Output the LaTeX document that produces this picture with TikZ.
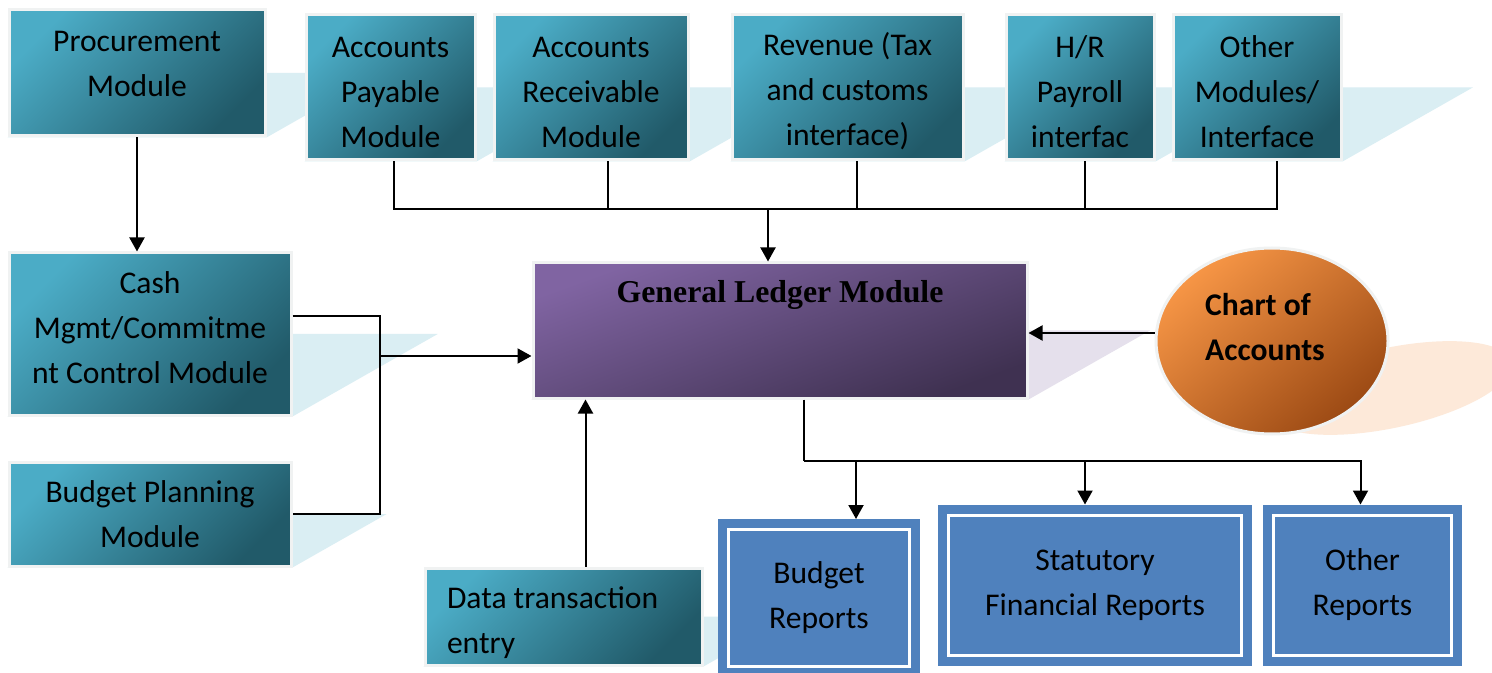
\documentclass[tikz,border=0pt]{standalone}
\usepackage{fontspec}
\setmainfont{Carlito}
\newfontfamily\glserif{Liberation Serif}
\usepackage{tikz}
\usetikzlibrary{arrows.meta, calc, shapes.geometric, backgrounds}

\definecolor{tealhi}{HTML}{4BACC6}
\definecolor{tealdk}{HTML}{215A69}
\definecolor{tealsh}{HTML}{DAEEF3}
\definecolor{purphi}{HTML}{8064A2}
\definecolor{purpdk}{HTML}{3F3151}
\definecolor{purpsh}{HTML}{E5E0EC}
\definecolor{orghi}{HTML}{F79646}
\definecolor{orgdk}{HTML}{9C4A14}
\definecolor{orgsh}{HTML}{FDE9D9}
\definecolor{repblue}{HTML}{4F81BD}
\definecolor{rimgray}{HTML}{F0F2F2}

\newcommand{\boxfont}{\fontsize{15.8}{22.5}\selectfont}
\newcommand{\txtup}[1]{\rule[-#1]{0pt}{0pt}}
\newcommand{\txtdown}[1]{\rule{0pt}{#1}}

\tikzset{
  modbox/.style={rectangle, draw=rimgray, line width=1.5pt, top color=tealhi,
    bottom color=tealdk, shading angle=45, align=center, font=\boxfont, inner sep=2pt},
  glbox/.style={rectangle, draw=rimgray, line width=1.5pt, top color=purphi,
    bottom color=purpdk, shading angle=20},
  coabox/.style={ellipse, draw=rimgray, line width=1.5pt, top color=orghi,
    bottom color=orgdk, shading angle=40},
  repbox/.style={rectangle, fill=repblue, draw=repblue, double=white,
    double distance=1.5pt, line width=4.5pt, outer sep=5.25pt, align=center,
    font=\boxfont, inner sep=2pt}
}

\newcommand{\dropshade}[2]{%
  \fill[#2] let \p1=(#1.north), \p2=(#1.south), \n1={0.88*(\y1-\y2)} in
    ([xshift=\n1]#1.west) -- ([xshift=\n1]#1.east) -- (#1.south east) -- (#1.south west) -- cycle;}

\begin{document}
\begin{tikzpicture}[x=0.5pt, y=-0.5pt, line width=1pt, >={Triangle[length=7pt,width=7.5pt]}]
\useasboundingbox (0,0) rectangle (1492,673);

% modules
\node[modbox, minimum width=128pt, minimum height=63pt] (proc) at (137,73) {Procurement\\Module\txtup{9pt}};
\node[modbox, minimum width=84.5pt, minimum height=72.5pt] (ap) at (390.5,87.5) {\txtdown{15pt}Accounts\\Payable\\Module};
\node[modbox, minimum width=97pt, minimum height=72.5pt] (ar) at (591,87.5) {\txtdown{15pt}Accounts\\Receivable\\Module};
\node[modbox, minimum width=115.5pt, minimum height=72.5pt] (rev) at (847.5,87.5) {\txtdown{15pt}Revenue (Tax\\and customs\\interface)};
\node[modbox, minimum width=74pt, minimum height=72.5pt] (hr) at (1080,87.5) {\txtdown{15pt}H/R\\Payroll\\interfac};
\node[modbox, minimum width=84pt, minimum height=72.5pt] (oth) at (1257,87.5) {\txtdown{15pt}Other\\Modules/\\Interface};
\node[modbox, minimum width=141pt, minimum height=81pt] (cash) at (150,334) {Cash\\Mgmt/Commitme\\nt Control Module\txtup{6pt}};
\node[modbox, minimum width=141pt, minimum height=52pt] (plan) at (150,514) {Budget Planning\\Module};
\node[modbox, minimum width=138.5pt, minimum height=48.5pt, text width=116.5pt, inner xsep=11pt,
  align=flush left] (data) at (563.5,616.5) {\txtdown{17.5pt}Data transaction\\entry};

\node[glbox, minimum width=247pt, minimum height=67.5pt,
  label={[font=\glserif\bfseries\fontsize{15.9}{19}\selectfont, anchor=north, inner sep=0pt, yshift=-9pt]north:General Ledger Module}] (gl) at (780,330.5) {};
\node[coabox, minimum width=116pt, minimum height=93pt,
  label={[font=\boxfont\bfseries, align=left, xshift=-3.5pt, yshift=7pt]center:Chart of\\Accounts}] (coa) at (1272,341) {};

% reports
\node[repbox, minimum width=90.5pt, minimum height=68.5pt] (bud) at (819,598) {Budget\\Reports};
\node[repbox, minimum width=146.5pt, minimum height=70pt] (stat) at (1095,585) {Statutory\\Financial Reports};
\node[repbox, minimum width=89pt, minimum height=70pt] (othr) at (1362.5,585) {Other\\Reports};

% connectors
\draw[->] (proc.south) -- (proc.south |- cash.north);

\coordinate (tsplit) at (768,209);
\foreach \m/\dx in {ap/1.75pt, ar/8.5pt, rev/4.75pt, hr/2.5pt, oth/10pt}
  \draw ([xshift=\dx]\m.south) |- (tsplit);
\draw[->] (tsplit) -- (tsplit |- gl.north);

\coordinate (ljoin) at (380,356);
\draw ([yshift=9pt]cash.east) -| (ljoin) |- (plan.east);
\draw[->] (ljoin) -- (ljoin -| gl.west);

\draw[->] ([xshift=11pt]data.north) -- ([xshift=11pt]data.north |- gl.south);
\draw[->] ([yshift=4pt]coa.west) -- ([yshift=4pt]coa.west -| gl.east);

\coordinate (rsplit) at (804,461);
\draw ([xshift=12pt]gl.south) -- (rsplit);
\foreach \r/\dx in {bud/18.5pt, stat/-5pt, othr/-1pt}
  \draw[->] (rsplit) -| ([xshift=\dx]\r.north);

% shadows
\begin{scope}[on background layer]
  \fill[white] (0,0) rectangle (1492,673);
  \foreach \m in {proc, ap, ar, rev, hr, oth, cash, plan, data}
    \dropshade{\m}{tealsh};
  \dropshade{gl}{purpsh};
  \coordinate (coash) at ($(coa.center)+(118,47)$);
  \fill[orgsh, rotate around={12:(coash)}] (coash) ellipse [x radius=62pt, y radius=20pt];
\end{scope}
\end{tikzpicture}
\end{document}
